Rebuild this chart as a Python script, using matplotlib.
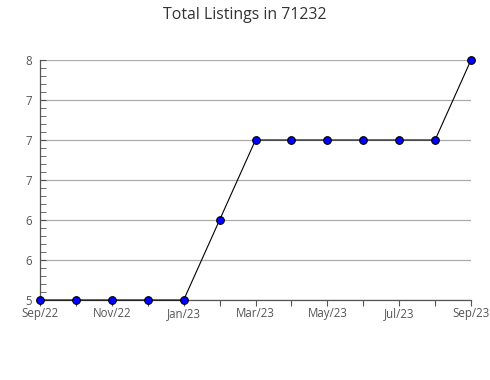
import matplotlib
matplotlib.use("Agg")
import matplotlib.pyplot as plt
from matplotlib.ticker import FixedLocator, MultipleLocator

months = ["Sep/22", "Oct/22", "Nov/22", "Dec/22", "Jan/23", "Feb/23", "Mar/23",
          "Apr/23", "May/23", "Jun/23", "Jul/23", "Aug/23", "Sep/23"]
values = [5, 5, 5, 5, 5, 6, 7, 7, 7, 7, 7, 7, 8]
y_ticks = [5, 5.5, 6, 6.5, 7, 7.5, 8]
y_labels = ["5", "6", "6", "7", "7", "7", "8"]

plt.rcParams['font.family'] = ['Open Sans', 'DejaVu Sans']

fig = plt.figure(figsize=(4.9, 3.8), dpi=100)
ax = fig.add_axes([40/490, 80/380, 431/490, 240/380])

x = list(range(len(months)))
ax.plot(x, values, color="black", linewidth=0.8, marker="o", markersize=5.5,
        markerfacecolor="#0000ff", markeredgecolor="black", markeredgewidth=0.8,
        clip_on=False, zorder=3)

ax.set_xlim(0, len(months) - 1)
ax.set_ylim(5, 8)
ax.set_yticks(y_ticks)
ax.set_yticklabels(y_labels)
ax.yaxis.set_minor_locator(MultipleLocator(0.1))
ax.set_xticks(x)
ax.set_xticklabels([m if i % 2 == 0 else "" for i, m in enumerate(months)])

ax.grid(axis="y", color="#aaaaaa", linewidth=0.9)
ax.set_axisbelow(True)
for s in ["top", "right"]:
    ax.spines[s].set_visible(False)
for s in ["left", "bottom"]:
    ax.spines[s].set_color("#555555")
    ax.spines[s].set_linewidth(0.9)

ax.tick_params(axis="y", which="both", direction="in", length=4, color="#555555",
               labelsize=8.3, labelcolor="#555555", pad=6)
ax.tick_params(axis="x", direction="out", length=4, color="#555555",
               labelsize=8.3, labelcolor="#555555", pad=1)

fig.text(245/490, 1 - 15/380, "Total Listings in 71232", ha="center", va="center",
         fontsize=11.4, color="#333333")

fig.savefig("out.png", dpi=100)
